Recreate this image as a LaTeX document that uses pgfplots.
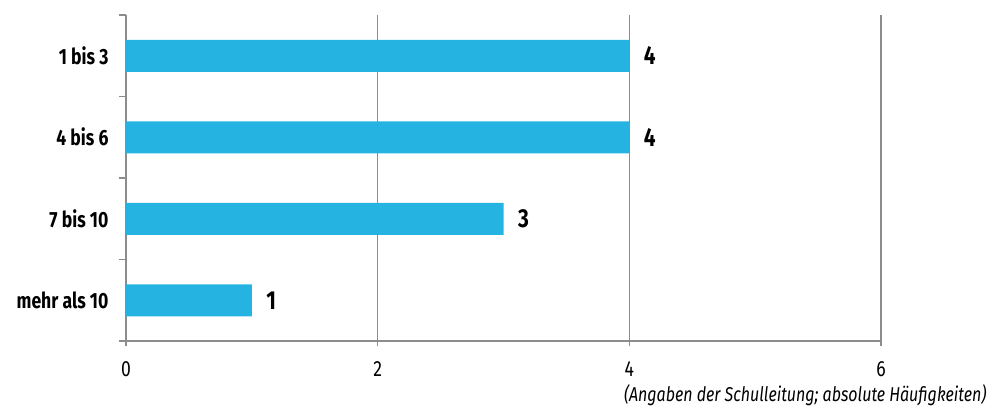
\documentclass[border=0pt]{standalone}
\usepackage{fontspec}
\setmainfont{Fira Sans}[FakeStretch=0.8]
\usepackage{pgfplots}
\pgfplotsset{compat=1.18}
\definecolor{barblue}{HTML}{25B4E2}
\definecolor{axgray}{HTML}{8C8C8C}
\begin{document}
\begin{tikzpicture}
\useasboundingbox (-126pt,-68pt) rectangle (869pt,341pt);
\begin{axis}[
  at={(0pt,0pt)}, anchor=south west,
  scale only axis, width=755pt, height=326pt,
  xbar, bar width=32pt,
  xmin=0, xmax=6, ymin=-0.5, ymax=3.5, y dir=reverse,
  ytick={0,1,2,3},
  yticklabels={1 bis 3, 4 bis 6, 7 bis 10, mehr als 10},
  minor ytick={-0.5,0.5,1.5,2.5,3.5},
  major y tick style={draw=none},
  minor y tick style={axgray, line width=1.5pt},
  minor tick length=7pt,
  major tick length=5pt,
  tick align=outside,
  xtick={0,2,4,6},
  x tick style={axgray, line width=1.2pt},
  xmajorgrids,
  grid style={axgray, line width=1.2pt},
  axis x line*=bottom, axis y line*=left,
  axis line style={axgray, line width=1.5pt, -},
  /pgf/number format/assume math mode=true,
  yticklabel style={font=\bfseries\fontsize{22}{22}\selectfont, text=black, xshift=-9pt},
  xticklabel style={font=\fontsize{22}{22}\selectfont, text=black, yshift=-12pt},
  nodes near coords,
  nodes near coords style={anchor=west, xshift=11pt, font=\bfseries\fontsize{26}{26}\selectfont, text=black},
  clip=false,
]
\addplot[fill=barblue, draw=none] coordinates {(4,0) (4,1) (3,2) (1,3)};
\end{axis}
\node[anchor=base east, font=\itshape\fontsize{20}{20}\selectfont] at (864pt,-61pt) {(Angaben der Schulleitung; absolute Häufigkeiten)};
\end{tikzpicture}
\end{document}
